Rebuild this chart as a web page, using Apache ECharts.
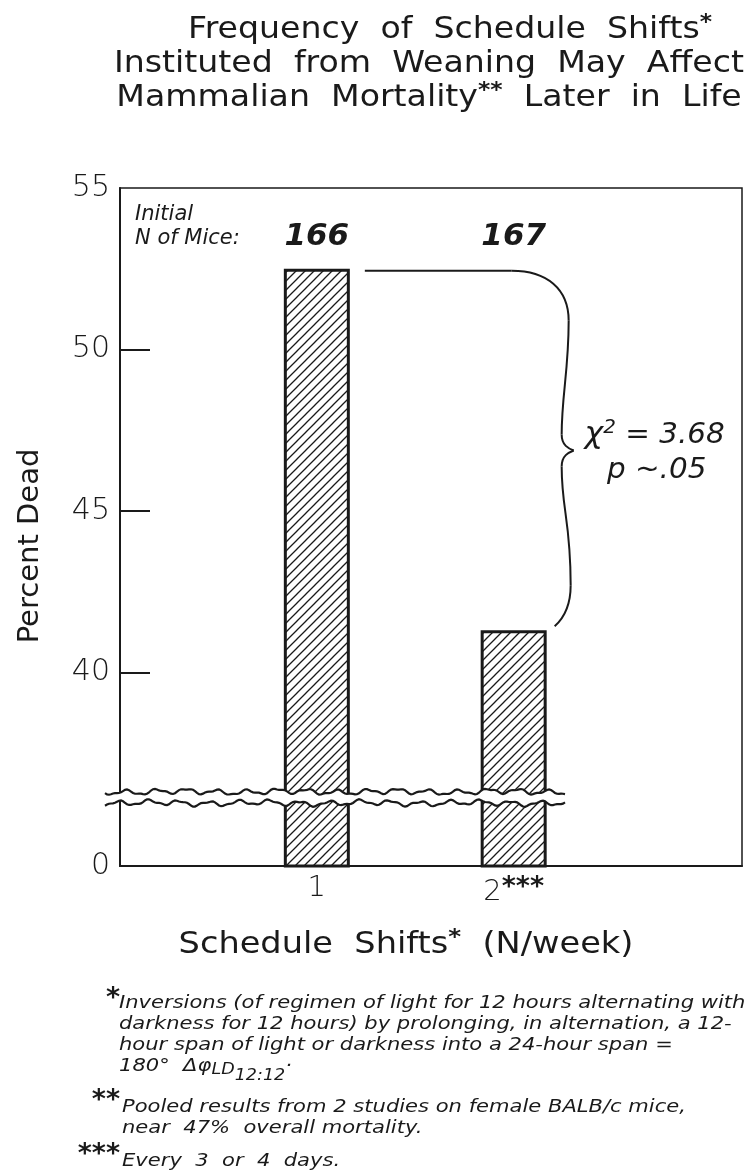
<!DOCTYPE html>
<html><head><meta charset="utf-8">
<script src="https://cdn.jsdelivr.net/npm/echarts@6/dist/echarts.min.js"></script>
<style>html,body{margin:0;padding:0;background:#fff}#c{width:748px;height:1176px}</style>
</head><body><div id="c"></div>
<script>
// ---- data ----
const categories = [1, 2];
const categoryLabels = ['1', '2***'];
const percentDead = [52.5, 41.3];
const nMice = [166, 167];
// broken axis: the bottom position (34) stands for 0
const yTickValues = [34, 40, 45, 50, 55];
const yTickLabels = ['0', '40', '45', '50', '55'];
const yInnerTicks = [40, 45, 50];
const breakBand = [35.95, 36.3];
const chiSquare = '3.68';
const pValue = '.05';
const titleLines = [
  'Frequency  of  Schedule  Shifts{a|*}',
  'Instituted  from  Weaning  May  Affect',
  'Mammalian  Mortality{a|**}  Later  in  Life'
];
const footnote1 = [
  'Inversions (of regimen of light for 12 hours alternating with',
  'darkness for 12 hours) by prolonging, in alternation, a 12-',
  'hour span of light or darkness into a 24-hour span =',
  '180°  Δφ{s1|LD}{s2|12:12}·'
];
const footnote2 = [
  'Pooled results from 2 studies on female BALB/c mice,',
  'near  47%  overall mortality.'
];
const footnote3 = ['Every  3  or  4  days.'];

const BAR_W = 66;
const FONT = '"DejaVu Sans", "Liberation Sans", sans-serif';

function hatch() {
  const c = document.createElement('canvas'); c.width = 9; c.height = 9;
  const g = c.getContext('2d');
  g.fillStyle = '#fff'; g.fillRect(0, 0, 9, 9);
  g.strokeStyle = '#1a1a1a'; g.lineWidth = 1.3; g.lineCap = 'square';
  g.beginPath();
  g.moveTo(0, 9); g.lineTo(9, 0);
  g.moveTo(-1, 1); g.lineTo(1, -1);
  g.moveTo(8, 10); g.lineTo(10, 8);
  g.stroke();
  return c;
}

function txt(x, y, text, font, align, vAlign, extra) {
  return Object.assign({
    type: 'text', x: x, y: y, silent: true,
    style: Object.assign({
      text: text, font: font, fill: '#1a1a1a',
      align: align, textAlign: align,
      verticalAlign: vAlign, textVerticalAlign: vAlign
    }, (extra && extra.style) || {})
  }, (extra && extra.el) || {});
}

const graphics = [];
// title
const titleCenters = [450, 429, 429];
titleLines.forEach((t, i) => {
  graphics.push(txt(titleCenters[i], 30 + i * 34, t, '31px ' + FONT, 'center', 'middle', {
    el: { scaleX: 1.07 },
    style: { rich: { a: { font: 'bold 22px ' + FONT, fill: '#1a1a1a', verticalAlign: 'top', padding: [0, 0, 14, 0] } } }
  }));
});
// y axis name
graphics.push(txt(30, 546, 'Percent Dead', '29px ' + FONT, 'center', 'middle', { el: { rotation: Math.PI / 2 } }));
// x axis name
graphics.push(txt(406, 945, 'Schedule  Shifts{a|*}  (N/week)', '30px ' + FONT, 'center', 'middle', {
  el: { scaleX: 1.12 },
  style: { rich: { a: { font: 'bold 22px ' + FONT, fill: '#1a1a1a', verticalAlign: 'top', padding: [0, 0, 14, 0] } } }
}));
// initial N
graphics.push(txt(135, 215, 'Initial', 'italic 21px ' + FONT, 'left', 'middle'));
graphics.push(txt(135, 239, 'N of Mice:', 'italic 21px ' + FONT, 'left', 'middle'));
// footnotes
const FN = 'italic 18px ' + FONT;
const AST = 'bold 27px ' + FONT;
const FSX = 1.17;
graphics.push(txt(120, 999, '*', AST, 'right', 'middle'));
footnote1.forEach((t, i) => graphics.push(txt(119, 1003 + i * 21, t, FN, 'left', 'middle', {
  el: { scaleX: FSX },
  style: { rich: { s1: { font: 'italic 15px ' + FONT, fill: '#1a1a1a', padding: [8, 0, 0, 0] }, s2: { font: 'italic 15px ' + FONT, fill: '#1a1a1a', padding: [20, 0, 0, 0] } } }
})));
graphics.push(txt(120, 1101, '**', AST, 'right', 'middle'));
footnote2.forEach((t, i) => graphics.push(txt(122, 1107 + i * 21, t, FN, 'left', 'middle', { el: { scaleX: FSX } })));
graphics.push(txt(120, 1155, '***', AST, 'right', 'middle'));
footnote3.forEach((t, i) => graphics.push(txt(122, 1161 + i * 21, t, FN, 'left', 'middle', { el: { scaleX: FSX } })));

function renderBreak(params, api) {
  const cs = params.coordSys;
  const x0 = cs.x - 15;
  const x1 = api.coord([categories[categories.length - 1], 0])[0] + BAR_W / 2 + 20;
  const yTop = api.coord([0, breakBand[1]])[1];
  const yBot = api.coord([0, breakBand[0]])[1];
  const wave = (x, ph) => 2.2 * Math.sin(x / 4.8 + ph) + 0.9 * Math.sin(x / 2.1 + ph * 1.7) + 0.8 * Math.sin(x / 17 + ph);
  const top = [], bot = [];
  for (let x = x0; x <= x1 + 0.1; x += 2) {
    top.push([x, yTop + wave(x - x0, 0.3)]);
    bot.push([x, yBot + wave(x - x0, 1.9)]);
  }
  const poly = top.concat(bot.slice().reverse());
  return {
    type: 'group',
    children: [
      { type: 'polygon', shape: { points: poly }, style: { fill: '#fff', stroke: null } },
      { type: 'polyline', shape: { points: top }, style: { fill: null, stroke: '#1a1a1a', lineWidth: 2.2 } },
      { type: 'polyline', shape: { points: bot }, style: { fill: null, stroke: '#1a1a1a', lineWidth: 2.2 } }
    ]
  };
}

function renderBrace(params, api) {
  const p1 = api.coord([categories[0], percentDead[0]]);
  const p2 = api.coord([categories[1], percentDead[1]]);
  const xs = p1[0] + BAR_W / 2 + 15;
  const yT = p1[1] + 2;
  const yB = p2[1];
  const yM = (yT + yB) / 2;
  const xr = p2[0] + 55;
  const xl = xr - 7;
  const st = { stroke: '#1a1a1a', lineWidth: 2, fill: null };
  const bz = (a, b, c, d) => ({ type: 'bezierCurve', shape: { x1: a[0], y1: a[1], cpx1: b[0], cpy1: b[1], cpx2: c[0], cpy2: c[1], x2: d[0], y2: d[1] }, style: st });
  const richT = {
    chi: { font: 'italic 30px ' + FONT, fill: '#1a1a1a' },
    sup: { font: 'italic 19px ' + FONT, fill: '#1a1a1a', verticalAlign: 'top', padding: [0, 0, 14, 0] },
    t: { font: 'italic 28px ' + FONT, fill: '#1a1a1a' }
  };
  return {
    type: 'group',
    children: [
      { type: 'line', shape: { x1: xs, y1: yT, x2: xr - 57, y2: yT }, style: st },
      bz([xr - 57, yT], [xr - 22, yT], [xr, yT + 18], [xr, yT + 50]),
      bz([xr, yT + 50], [xr, yM - 80], [xl, yM - 55], [xl, yM - 16]),
      bz([xl, yM - 16], [xl, yM - 5], [xr, yM - 2], [xr + 5, yM]),
      bz([xr + 5, yM], [xr, yM + 2], [xl, yM + 5], [xl, yM + 16]),
      bz([xl, yM + 16], [xl, yM + 60], [xr + 2, yB - 110], [xr + 2, yB - 45]),
      bz([xr + 2, yB - 45], [xr + 2, yB - 25], [xr - 5, yB - 12], [xr - 14, yB - 4]),
      { type: 'text', scaleX: 1.05, x: xr + 86, y: yM - 15, style: { text: '{chi|χ}{sup|2}{t| = ' + chiSquare + '}', x: 0, y: 0, align: 'center', textAlign: 'center', verticalAlign: 'middle', textVerticalAlign: 'middle', rich: richT, fill: '#1a1a1a' } },
      { type: 'text', scaleX: 1.05, x: xr + 88, y: yM + 20, style: { text: '{t|p ~' + pValue + '}', x: 0, y: 0, align: 'center', textAlign: 'center', verticalAlign: 'middle', textVerticalAlign: 'middle', rich: richT, fill: '#1a1a1a' } }
    ]
  };
}

function renderN(params, api) {
  const i = params.dataIndex;
  const p = api.coord([categories[i], percentDead[i]]);
  return {
    type: 'text',
    style: { text: String(nMice[i]), x: p[0], y: params.coordSys.y + 49, align: 'center', textAlign: 'center', verticalAlign: 'middle', textVerticalAlign: 'middle', font: 'italic bold 31px ' + FONT, fill: '#1a1a1a' }
  };
}

const chart = echarts.init(document.getElementById('c'), null, { renderer: 'canvas' });
chart.setOption({
  animation: false,
  backgroundColor: '#fff',
  grid: { left: 120, right: 6, top: 188, bottom: 310, show: true, borderColor: '#1a1a1a', borderWidth: 1.5, backgroundColor: 'transparent', containLabel: false, outerBoundsMode: 'none' },
  xAxis: {
    type: 'value', min: 0, max: 3.16,
    splitLine: { show: false },
    axisLine: { show: true, lineStyle: { color: '#1a1a1a', width: 2 } },
    axisTick: { show: false },
    axisLabel: {
      customValues: categories,
      margin: 8,
      color: '#1a1a1a',
      fontFamily: FONT, fontSize: 29, fontWeight: 200,
      formatter: v => {
        const idx = categories.indexOf(v);
        if (idx < 0) return '';
        return categoryLabels[idx].replace(/(\*+)/, '{a|$1}');
      },
      rich: { a: { fontFamily: FONT, fontSize: 27, fontWeight: 'bold', color: '#1a1a1a', verticalAlign: 'top', padding: [0, 0, 10, 0] } }
    }
  },
  yAxis: {
    type: 'value', min: 34, max: 55,
    splitLine: { show: false },
    axisLine: { show: true, lineStyle: { color: '#1a1a1a', width: 2 } },
    axisTick: { show: true, inside: true, length: 30, customValues: yInnerTicks, lineStyle: { color: '#1a1a1a', width: 2 } },
    axisLabel: {
      customValues: yTickValues,
      margin: 10,
      color: '#1a1a1a',
      fontFamily: FONT, fontSize: 30, fontWeight: 200,
      formatter: v => { const i = yTickValues.indexOf(v); return i < 0 ? '' : yTickLabels[i]; }
    }
  },
  graphic: graphics,
  series: [
    {
      type: 'bar',
      data: categories.map((c, i) => [c, percentDead[i]]),
      barWidth: BAR_W,
      itemStyle: { color: { image: hatch(), repeat: 'repeat' }, borderColor: '#1a1a1a', borderWidth: 3 },
      z: 2
    },
    {
      type: 'custom', renderItem: renderBreak, data: [0], clip: false, z: 5, silent: true
    },
    {
      type: 'custom', renderItem: renderBrace, data: [0], clip: false, z: 6, silent: true
    },
    {
      type: 'custom', renderItem: renderN, data: categories.map((c, i) => [c, nMice[i]]), clip: false, z: 6, silent: true
    }
  ]
});
</script></body></html>
